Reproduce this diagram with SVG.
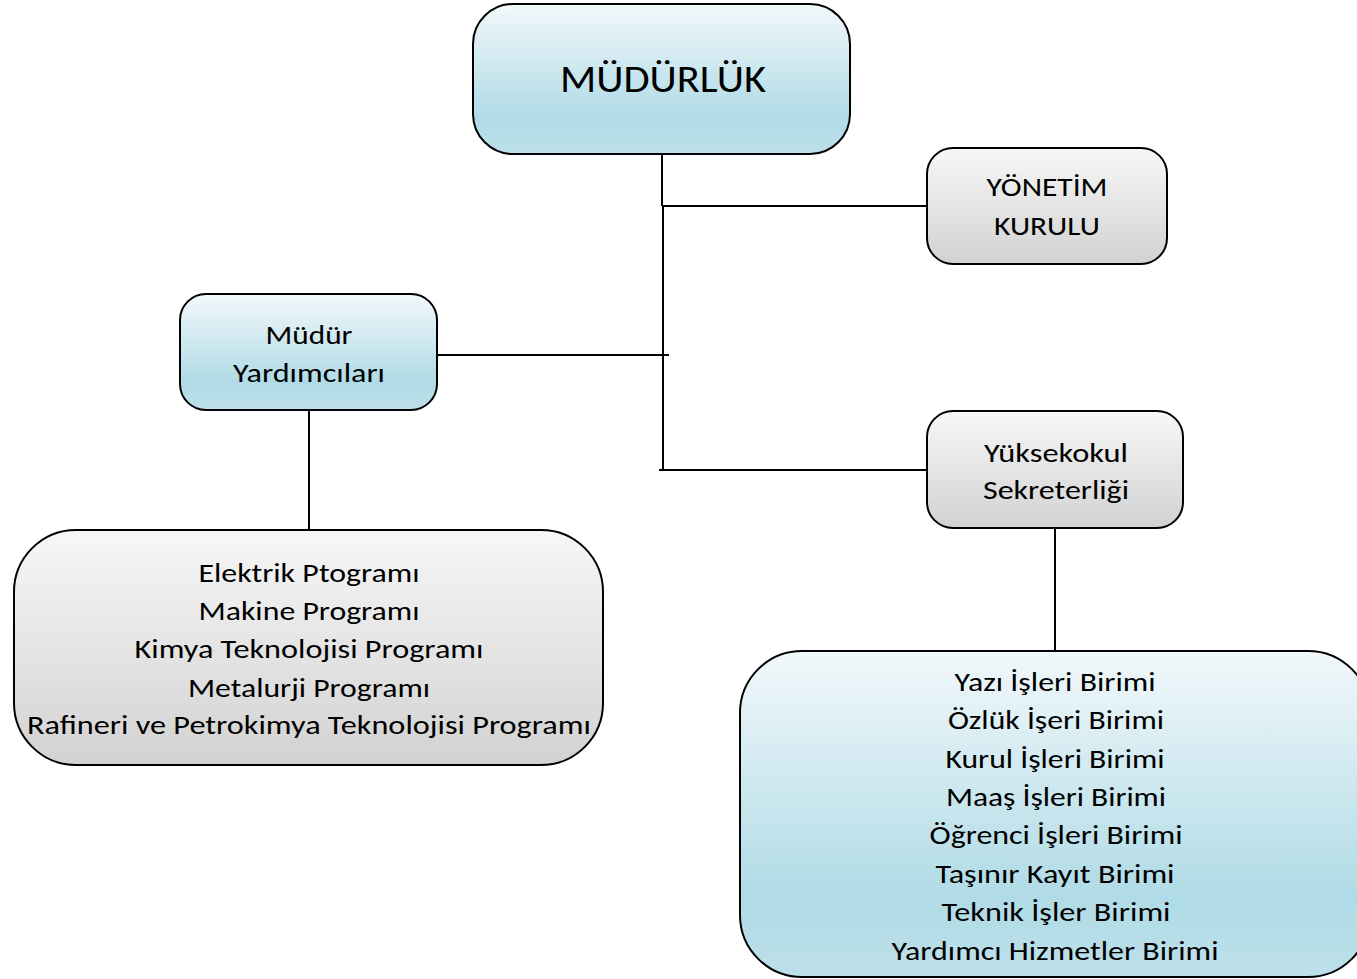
<svg xmlns="http://www.w3.org/2000/svg" width="1357" height="979" viewBox="0 0 1357 979">
<defs>
<linearGradient id="blue" x1="0" y1="0" x2="0" y2="1">
<stop offset="0" stop-color="#f2f8fb"/>
<stop offset="0.75" stop-color="#b0dbe6"/>
<stop offset="1" stop-color="#bde0ea"/>
</linearGradient>
<linearGradient id="gray" x1="0" y1="0" x2="0" y2="1">
<stop offset="0" stop-color="#f7f7f7"/>
<stop offset="1" stop-color="#d2d2d2"/>
</linearGradient>
<style>
.box{stroke:#000;stroke-width:2}
.b{fill:url(#blue)}
.g{fill:url(#gray)}
text{font-family:Carlito,"Open Sans","Noto Sans",sans-serif;fill:#000;text-anchor:middle;font-size:27px}
.big{font-size:38px}
#connectors line{stroke:#000;stroke-width:2}
</style>
</defs>
<g id="connectors">
<line x1="662" y1="154" x2="662" y2="206"/>
<line x1="662" y1="206" x2="927" y2="206"/>
<line x1="663" y1="207" x2="663" y2="471"/>
<line x1="437" y1="355" x2="669" y2="355"/>
<line x1="659" y1="470" x2="927" y2="470"/>
<line x1="309" y1="410" x2="309" y2="530"/>
<line x1="1055" y1="528" x2="1055" y2="651"/>
</g>
<g id="mudurluk">
<rect class="box b" x="473" y="4" width="377" height="150" rx="40"/>
<text class="big" x="663" y="92" textLength="206" lengthAdjust="spacingAndGlyphs">MÜDÜRLÜK</text>
</g>
<g id="yonetim">
<rect class="box g" x="927" y="148" width="240" height="116" rx="26"/>
<text x="1047" y="196" textLength="121" lengthAdjust="spacingAndGlyphs">YÖNETİM</text>
<text x="1047" y="235" textLength="106" lengthAdjust="spacingAndGlyphs">KURULU</text>
</g>
<g id="mudur-yardimcilari">
<rect class="box b" x="180" y="294" width="257" height="116" rx="26"/>
<text x="309" y="344" textLength="87" lengthAdjust="spacingAndGlyphs">Müdür</text>
<text x="309" y="382" textLength="152" lengthAdjust="spacingAndGlyphs">Yardımcıları</text>
</g>
<g id="sekreterlik">
<rect class="box g" x="927" y="411" width="256" height="117" rx="26"/>
<text x="1056" y="462" textLength="144" lengthAdjust="spacingAndGlyphs">Yüksekokul</text>
<text x="1056" y="499" textLength="146" lengthAdjust="spacingAndGlyphs">Sekreterliği</text>
</g>
<g id="programlar">
<rect class="box g" x="14" y="530" width="589" height="235" rx="62"/>
<text x="309" y="582" textLength="221" lengthAdjust="spacingAndGlyphs">Elektrik Ptogramı</text>
<text x="309" y="620" textLength="221" lengthAdjust="spacingAndGlyphs">Makine Programı</text>
<text x="309" y="658" textLength="349" lengthAdjust="spacingAndGlyphs">Kimya Teknolojisi Programı</text>
<text x="309" y="697" textLength="242" lengthAdjust="spacingAndGlyphs">Metalurji Programı</text>
<text x="309" y="734" textLength="564" lengthAdjust="spacingAndGlyphs">Rafineri ve Petrokimya Teknolojisi Programı</text>
</g>
<g id="birimler">
<rect class="box b" x="740" y="651" width="630" height="326" rx="62"/>
<text x="1055" y="691" textLength="201" lengthAdjust="spacingAndGlyphs">Yazı İşleri Birimi</text>
<text x="1056" y="729" textLength="216" lengthAdjust="spacingAndGlyphs">Özlük İşeri Birimi</text>
<text x="1055" y="768" textLength="219" lengthAdjust="spacingAndGlyphs">Kurul İşleri Birimi</text>
<text x="1056" y="806" textLength="220" lengthAdjust="spacingAndGlyphs">Maaş İşleri Birimi</text>
<text x="1056" y="844" textLength="253" lengthAdjust="spacingAndGlyphs">Öğrenci İşleri Birimi</text>
<text x="1055" y="883" textLength="239" lengthAdjust="spacingAndGlyphs">Taşınır Kayıt Birimi</text>
<text x="1056" y="921" textLength="229" lengthAdjust="spacingAndGlyphs">Teknik İşler Birimi</text>
<text x="1055" y="960" textLength="327" lengthAdjust="spacingAndGlyphs">Yardımcı Hizmetler Birimi</text>
</g>
</svg>
